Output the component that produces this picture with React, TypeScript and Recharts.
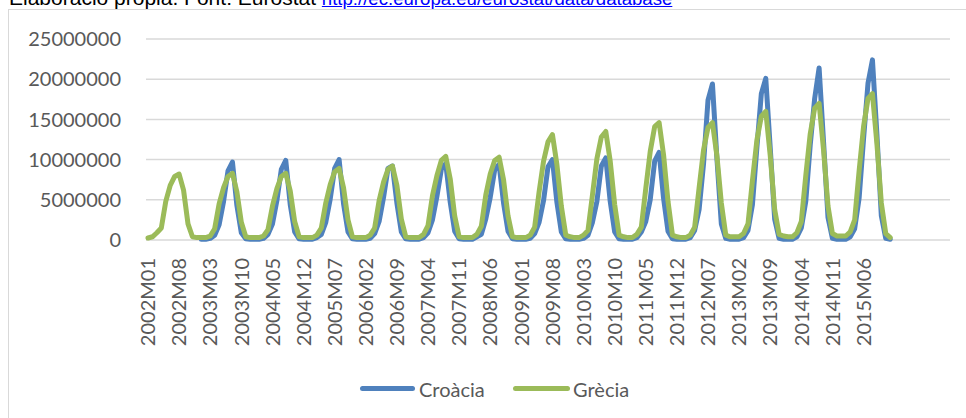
import React from "react";
import { LineChart, Line, XAxis, YAxis, CartesianGrid } from "recharts";

// 2002M01 .. 2015M12, one value per month
const years = [2002, 2003, 2004, 2005, 2006, 2007, 2008, 2009, 2010, 2011, 2012, 2013, 2014, 2015];
const monthNums = ["01", "02", "03", "04", "05", "06", "07", "08", "09", "10", "11", "12"];
const months: string[] = years.flatMap((y) => monthNums.map((m) => `${y}M${m}`));
// the source sheet keeps some empty rows after the last month
const emptyRows = 13;

const croacia: (number | null)[] = [
  null, null, null, null, null, null, null, null, null, null, null, null,
  100000, 100000, 200000, 600000, 1900000, 4800000, 8600000, 9700000, 4300000, 900000, 150000, 100000,
  100000, 100000, 200000, 700000, 2000000, 4900000, 8800000, 9900000, 4400000, 1000000, 150000, 100000,
  100000, 100000, 300000, 700000, 2200000, 5100000, 8900000, 10000000, 4500000, 1000000, 150000, 100000,
  100000, 100000, 200000, 800000, 2300000, 5300000, 8900000, 9200000, 4600000, 1000000, 150000, 100000,
  100000, 100000, 300000, 900000, 2500000, 5400000, 8800000, 9500000, 4700000, 1100000, 150000, 100000,
  100000, 100000, 400000, 700000, 2600000, 5300000, 8700000, 9400000, 4600000, 1100000, 150000, 100000,
  100000, 100000, 200000, 800000, 2200000, 4900000, 9100000, 10000000, 4700000, 1000000, 150000, 100000,
  100000, 100000, 200000, 600000, 2200000, 4800000, 9200000, 10200000, 4800000, 1000000, 150000, 100000,
  100000, 100000, 300000, 1000000, 2300000, 5000000, 9800000, 10900000, 5200000, 1100000, 150000, 100000,
  100000, 100000, 300000, 1200000, 3800000, 9500000, 17400000, 19400000, 10200000, 2000000, 200000, 100000,
  100000, 100000, 300000, 1200000, 4400000, 11500000, 18200000, 20100000, 11500000, 2600000, 200000, 100000,
  100000, 100000, 400000, 1500000, 4800000, 11800000, 17600000, 21400000, 12200000, 2800000, 200000, 100000,
  100000, 100000, 400000, 1400000, 5200000, 12600000, 19500000, 22400000, 13200000, 3000000, 200000, 100000,
];

const grecia: number[] = [
  250000, 400000, 900000, 1500000, 4800000, 6800000, 7900000, 8200000, 6200000, 2000000, 400000, 300000,
  300000, 300000, 500000, 1400000, 4500000, 6500000, 7900000, 8300000, 6000000, 2200000, 400000, 300000,
  300000, 300000, 500000, 1300000, 4200000, 6400000, 7900000, 8300000, 6100000, 2300000, 400000, 300000,
  300000, 300000, 600000, 1500000, 4600000, 6900000, 8500000, 8900000, 6500000, 2500000, 400000, 300000,
  300000, 300000, 600000, 1500000, 4900000, 7200000, 8800000, 9200000, 6800000, 2600000, 400000, 300000,
  300000, 300000, 700000, 1800000, 5500000, 8000000, 9900000, 10400000, 7600000, 3000000, 400000, 300000,
  300000, 300000, 700000, 1700000, 5600000, 8200000, 9900000, 10300000, 7500000, 3000000, 400000, 300000,
  300000, 300000, 600000, 1600000, 6000000, 9800000, 12200000, 13100000, 9400000, 4200000, 600000, 400000,
  300000, 300000, 600000, 1200000, 5600000, 10100000, 12800000, 13500000, 9800000, 4400000, 600000, 400000,
  300000, 300000, 700000, 1600000, 6400000, 11000000, 14100000, 14600000, 10600000, 4800000, 600000, 400000,
  300000, 300000, 600000, 1600000, 6500000, 11200000, 14000000, 14600000, 10500000, 4600000, 600000, 400000,
  400000, 400000, 800000, 2000000, 7400000, 12400000, 15400000, 16000000, 10500000, 3800000, 700000, 500000,
  400000, 400000, 900000, 2300000, 8000000, 13200000, 16400000, 17000000, 11200000, 4200000, 800000, 500000,
  500000, 500000, 1000000, 2500000, 8600000, 14100000, 17600000, 18200000, 12000000, 4600000, 800000, 300000,
];

const yTicks = [0, 5000000, 10000000, 15000000, 20000000, 25000000];

const data = Array.from({ length: months.length + emptyRows }, (_, i) => ({
  i,
  croacia: i < months.length ? croacia[i] : null,
  grecia: i < months.length ? grecia[i] : null,
}));

const BLUE = "#4F81BD";
const GREEN = "#9BBB59";
const GREY = "#595959";
const FONT = "Lato, 'Open Sans', sans-serif";

const MonthTick = (props: any) => {
  const { x, payload } = props;
  const label = months[payload.value] ?? "";
  const y = 258;
  return (
    <text
      x={x}
      y={y}
      transform={`rotate(-90, ${x}, ${y})`}
      textAnchor="end"
      dy="0.36em"
      fill={GREY}
      fontSize={20}
      fontFamily={FONT}
    >
      {label}
    </text>
  );
};

const App = () => {
  return (
    <div style={{ position: "fixed", left: 0, top: 0, width: 966, height: 418, overflow: "hidden", background: "#fff" }}>
      <div
        style={{
          position: "absolute",
          left: 9,
          top: -13,
          fontFamily: "'Liberation Sans', Arial, sans-serif",
          fontSize: 21,
          lineHeight: "21px",
          color: "#000",
          whiteSpace: "nowrap",
        }}
      >
        Elaboració pròpia. Font: Eurostat{" "}
        <span style={{ fontSize: 18.6, color: "#0000FF", textDecoration: "underline" }}>
          http://ec.europa.eu/eurostat/data/database
        </span>
      </div>
      <div
        style={{
          position: "absolute",
          left: 8,
          top: 9,
          width: 1000,
          height: 500,
          border: "1px solid #D9D9D9",
        }}
      />
      <div style={{ position: "absolute", left: 0, top: 0 }}>
        <LineChart width={960} height={418} data={data} margin={{ top: 39, right: 10, bottom: 0, left: 0 }}>
          <CartesianGrid vertical={false} stroke="#D9D9D9" strokeWidth={1.5} />
          <XAxis
            dataKey="i"
            type="category"
            interval={6}
            height={178}
            tick={<MonthTick />}
            tickLine={false}
            axisLine={false}
            padding={{ left: 2, right: 2 }}
          />
          <YAxis
            width={146}
            domain={[0, 25000000]}
            ticks={yTicks}
            axisLine={false}
            tickLine={false}
            tickSize={0}
            tickMargin={25}
            tick={{ fill: GREY, fontSize: 20, fontFamily: FONT }}
          />
          <Line
            type="linear"
            dataKey="croacia"
            stroke={BLUE}
            strokeWidth={5}
            strokeLinejoin="round"
            strokeLinecap="round"
            dot={false}
            isAnimationActive={false}
          />
          <Line
            type="linear"
            dataKey="grecia"
            stroke={GREEN}
            strokeWidth={5}
            strokeLinejoin="round"
            strokeLinecap="round"
            dot={false}
            isAnimationActive={false}
          />
        </LineChart>
      </div>
      <div style={{ position: "absolute", left: 360, top: 386, width: 55, height: 5, borderRadius: 3, background: BLUE }} />
      <div style={{ position: "absolute", left: 419, top: 376, fontFamily: FONT, fontSize: 20, lineHeight: "26px", color: GREY }}>
        Croàcia
      </div>
      <div style={{ position: "absolute", left: 513, top: 386, width: 57, height: 5, borderRadius: 3, background: GREEN }} />
      <div style={{ position: "absolute", left: 573, top: 376, fontFamily: FONT, fontSize: 20, lineHeight: "26px", color: GREY }}>
        Grècia
      </div>
    </div>
  );
};

export default App;
